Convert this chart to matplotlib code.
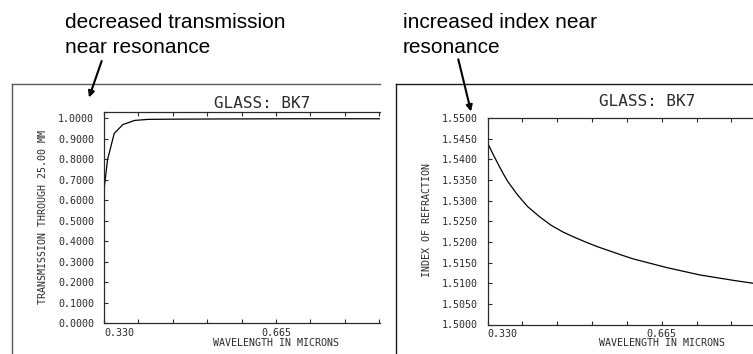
import matplotlib
matplotlib.use('Agg')
import matplotlib.pyplot as plt
from matplotlib.ticker import FixedLocator, FixedFormatter
from matplotlib.transforms import blended_transform_factory

W, H, DPI = 753, 354, 100

# ---------------- data ----------------
trans_wl = [0.330, 0.337, 0.350, 0.367, 0.390, 0.416, 0.460, 0.550, 0.700, 0.868]
trans_val = [0.650, 0.800, 0.927, 0.970, 0.990, 0.995, 0.996, 0.997, 0.998, 0.998]

index_wl = [0.330, 0.340, 0.3498, 0.359, 0.3691, 0.3883, 0.4076, 0.430, 0.4526, 0.475,
            0.4975, 0.520, 0.5423, 0.5905, 0.6097, 0.6741, 0.7382, 0.8022, 0.840]
index_val = [1.5440, 1.5414, 1.5390, 1.5368, 1.5346, 1.5313, 1.5285, 1.5261, 1.5240, 1.5224,
             1.5211, 1.5199, 1.5188, 1.5167, 1.5159, 1.5138, 1.5120, 1.5107, 1.5100]

x_ticks = [0.330, 0.397, 0.464, 0.531, 0.598, 0.665, 0.732, 0.799, 0.866]
x_tick_labels = ['0.330', '', '', '', '', '0.665', '', '', '']
trans_yticks = [0.0, 0.1, 0.2, 0.3, 0.4, 0.5, 0.6, 0.7, 0.8, 0.9, 1.0]
index_yticks = [1.5000, 1.5050, 1.5100, 1.5150, 1.5200, 1.5250, 1.5300,
                1.5350, 1.5400, 1.5450, 1.5500]
label_center_wl = 0.665

title_text = 'GLASS: BK7'
xlabel_text = 'WAVELENGTH IN MICRONS'
trans_ylabel = 'TRANSMISSION THROUGH 25.00 MM'
index_ylabel = 'INDEX OF REFRACTION'
note_left = ['decreased transmission', 'near resonance']
note_right = ['increased index near', 'resonance']

MONO = 'DejaVu Sans Mono'
PLOT_C = '#2a2a2a'

fig = plt.figure(figsize=(W / DPI, H / DPI), dpi=DPI)


def fr(x0, y0, x1, y1):
    return [x0 / W, 1 - y1 / H, (x1 - x0) / W, (y1 - y0) / H]


# panel frames
for (x0, x1, col) in [(12, 380, '#5a5a5a'), (396, 790, '#1a1a1a')]:
    f = fig.add_axes(fr(x0, 84, x1, 380))
    f.set_xticks([]); f.set_yticks([])
    f.patch.set_alpha(0)
    for s in ['right', 'bottom']:
        f.spines[s].set_visible(False)
    for s in ['left', 'top']:
        f.spines[s].set_color(col)
        f.spines[s].set_linewidth(1.0)
    f.set_zorder(0)


def style_axis(ax, xlim, ylim, yticks, yfmt, xpad):
    ax.set_zorder(2)
    ax.patch.set_alpha(0)
    ax.set_xlim(*xlim)
    ax.set_ylim(*ylim)
    ax.xaxis.set_major_locator(FixedLocator(x_ticks))
    ax.xaxis.set_major_formatter(FixedFormatter(x_tick_labels))
    ax.yaxis.set_major_locator(FixedLocator(yticks))
    ax.yaxis.set_major_formatter(FixedFormatter([yfmt.format(v) for v in yticks]))
    ax.spines['right'].set_visible(False)
    for s in ['left', 'top', 'bottom']:
        ax.spines[s].set_color(PLOT_C)
        ax.spines[s].set_linewidth(0.9)
    ax.tick_params(axis='both', direction='in', length=2.8, width=0.8,
                   color=PLOT_C, labelcolor=PLOT_C, labelsize=7.2)
    ax.tick_params(axis='x', top=True, pad=xpad)
    ax.tick_params(axis='y', right=False, pad=7.2)
    for lab in ax.get_xticklabels() + ax.get_yticklabels():
        lab.set_family(MONO)
    ax.xaxis.get_major_ticks()[0].label1.set_horizontalalignment('left')


# left: transmission
ax1 = fig.add_axes(fr(104, 112, 380, 323.3))
style_axis(ax1, (0.330, 0.8676), (0.0, 1.031), trans_yticks, '{:.4f}', 3.6)
ax1.plot(trans_wl, trans_val, color='black', lw=0.9)

# right: index
ax2 = fig.add_axes(fr(487.5, 118, 753, 324.5))
style_axis(ax2, (0.330, 0.8405), (1.5000, 1.5500), index_yticks, '{:.4f}', 3.0)
ax2.plot(index_wl, index_val, color='black', lw=0.9)

for ax, ylab, yx, yy, xly in [(ax1, trans_ylabel, -0.221, 0.502, -0.0948),
                               (ax2, index_ylabel, -0.2264, 0.504, -0.0896)]:
    ax.set_xlabel(xlabel_text, family=MONO, fontsize=7.2, color=PLOT_C)
    ax.xaxis.set_label_coords(label_center_wl, xly,
                              transform=blended_transform_factory(ax.transData, ax.transAxes))
    ax.xaxis.label.set_verticalalignment('center')
    ax.set_ylabel(ylab, family=MONO, fontsize=7.2, color=PLOT_C)
    ax.yaxis.set_label_coords(yx, yy)
    ax.yaxis.label.set_verticalalignment('center')

# titles
for (tx, ty) in [(262, 103), (647, 101.5)]:
    fig.text(tx / W, 1 - ty / H, title_text, family=MONO, fontsize=11.5,
             color=PLOT_C, ha='center', va='center')

# annotation text
for (x0, lines) in [(65, note_left), (403, note_right)]:
    for i, line in enumerate(lines):
        fig.text(x0 / W, 1 - (28 + 25 * i) / H, line, family='Liberation Sans',
                 fontsize=15, color='black', ha='left', va='baseline')

# arrows
for (tail, tip) in [((101.7, 61), (89, 97.5)), ((458.3, 59.3), (471, 111.5))]:
    ax1.annotate('', xy=(tip[0], H - tip[1]), xycoords='figure pixels',
                 xytext=(tail[0], H - tail[1]), textcoords='figure pixels',
                 annotation_clip=False,
                 arrowprops=dict(arrowstyle='-|>', mutation_scale=9, lw=1.5,
                                 color='black', shrinkA=0, shrinkB=0))

fig.savefig('out.png', dpi=DPI)
